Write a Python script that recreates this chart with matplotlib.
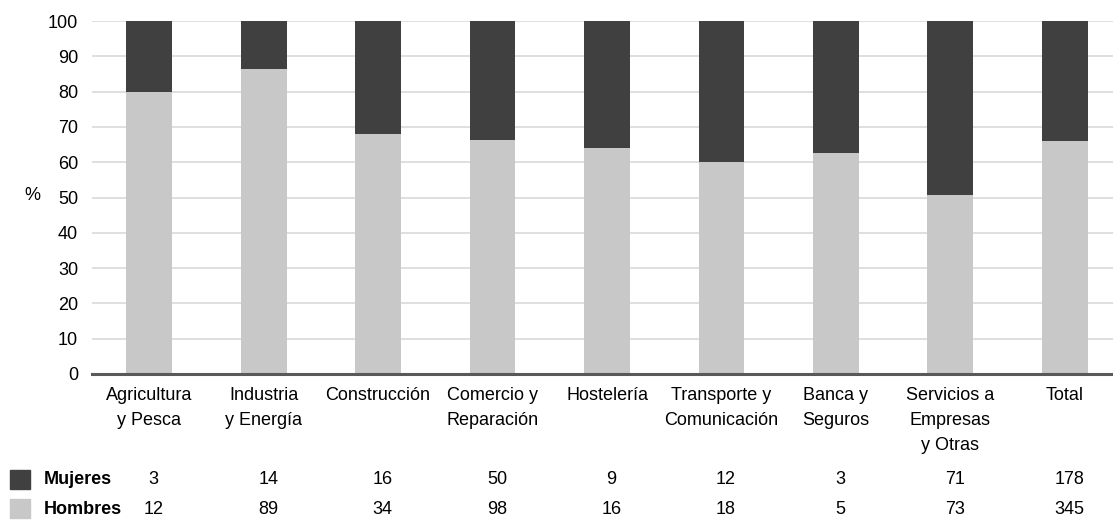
import matplotlib
matplotlib.use("Agg")
import matplotlib.pyplot as plt
import matplotlib.transforms as mtransforms
import numpy as np

categories = ["Agricultura\ny Pesca", "Industria\ny Energía", "Construcción",
              "Comercio y\nReparación", "Hostelería", "Transporte y\nComunicación",
              "Banca y\nSeguros", "Servicios a\nEmpresas\ny Otras", "Total"]
mujeres = [3, 14, 16, 50, 9, 12, 3, 71, 178]
hombres = [12, 89, 34, 98, 16, 18, 5, 73, 345]
yticks = [0, 10, 20, 30, 40, 50, 60, 70, 80, 90, 100]

FONT = ["Liberation Sans Narrow", "Liberation Sans", "DejaVu Sans"]
plt.rcParams['font.family'] = FONT
plt.rcParams['font.size'] = 13

DARK = "#404040"
LIGHT = "#c8c8c8"

W, H = 1113, 521
fig = plt.figure(figsize=(W / 100, H / 100), dpi=100)
ax = fig.add_axes([92 / W, 1 - 374 / H, (1122 - 92) / W, (374 - 21) / H])

m = np.array(mujeres, dtype=float)
h = np.array(hombres, dtype=float)
tot = m + h
pct_h = h / tot * 100
pct_m = m / tot * 100
x = np.arange(len(categories))

ax.bar(x, pct_h, width=0.40, color=LIGHT, zorder=2)
ax.bar(x, pct_m, bottom=pct_h, width=0.40, color=DARK, zorder=2)

ax.set_xlim(-0.5, len(categories) - 0.5)
ax.set_ylim(0, 100)
ax.set_yticks(yticks)
ax.set_yticklabels([str(v) for v in yticks])
ax.yaxis.grid(True, color="#d9d9d9", linewidth=1.2, zorder=0)
ax.set_axisbelow(True)
for s in ["top", "right", "left"]:
    ax.spines[s].set_visible(False)
ax.spines["bottom"].set_color("#595959")
ax.spines["bottom"].set_linewidth(2.2)
ax.spines["bottom"].set_zorder(3)
ax.tick_params(axis="y", length=0, pad=10, labelsize=13, colors="black")
ax.tick_params(axis="x", length=0, pad=9, labelsize=13, colors="black")
ax.set_xticks(x)
ax.set_xticklabels(categories, linespacing=1.62, va="top")

fig.text(32 / W, 1 - 195 / H, "%", ha="center", va="center", fontsize=13)

trans = mtransforms.blended_transform_factory(ax.transData, fig.transFigure)
rows = [("Mujeres", mujeres, DARK, 480), ("Hombres", hombres, LIGHT, 509)]
for name, vals, col, ypix in rows:
    yf = 1 - ypix / H
    fig.patches.append(plt.Rectangle((10 / W, 1 - (ypix + 9) / H), 20 / W, 19 / H,
                                     transform=fig.transFigure, color=col, figure=fig))
    fig.text(44 / W, yf, name, ha="left", va="center", fontsize=13, fontweight="bold")
    for xi, v in zip(x, vals):
        ax.text(xi + 0.04, yf, str(v), transform=trans, ha="center", va="center",
                fontsize=13, clip_on=False)

fig.savefig("out.png", dpi=100)
